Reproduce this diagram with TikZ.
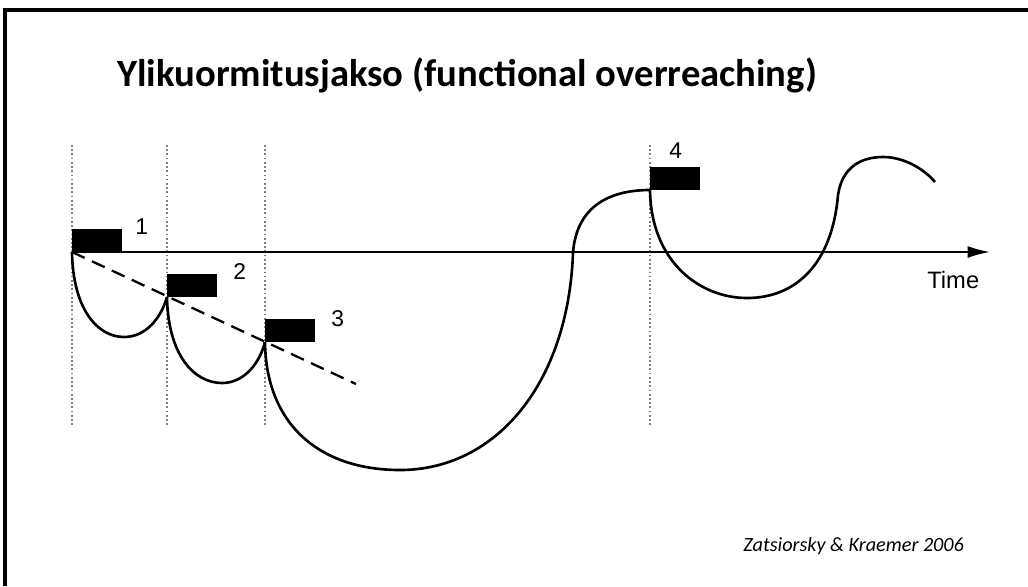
\documentclass[tikz,border=0pt]{standalone}
\usepackage{fontspec}
\setmainfont{Liberation Sans}
\newfontfamily\calfont{Carlito}
\usetikzlibrary{arrows.meta,positioning}

\begin{document}
\begin{tikzpicture}[
  x=0.02cm, y=-0.02cm,
  marker/.style={rectangle, fill=black, minimum width=1cm,
                 minimum height=0.46cm, inner sep=0pt, anchor=south west},
  num/.style={font=\fontsize{13}{15}\selectfont, inner sep=0pt, anchor=base west},
  guide/.style={gray, line width=1pt, dash pattern=on 1pt off 1.4pt},
  curve/.style={line width=1.5pt},
  trend/.style={line width=1.3pt, dash pattern=on 8pt off 4.5pt},
  arr/.style={-{Latex[length=4.5mm, width=2.4mm]}, line width=1pt},
]
  \useasboundingbox (0,0) rectangle (1028,586);
  \draw[line width=2pt] (5,586) -- (5,10) -- (1028,10);

  % title and source
  \node[anchor=base west, inner sep=0pt, font=\calfont\bfseries\fontsize{22}{26}\selectfont]
    (title) at (117,86) {Ylikuormitusjakso (functional overreaching)};
  \node[anchor=base west, inner sep=0pt, font=\calfont\itshape\fontsize{11.5}{14}\selectfont]
    (source) at (743,551) {Zatsiorsky \& Kraemer 2006};

  % stimulus points
  \coordinate (p1) at (72,252);
  \coordinate (p2) at (167,297);
  \coordinate (p3) at (265,342);
  \coordinate (p4) at (650,190);
  \coordinate (tend) at (990,252);
  \coordinate (dend) at (356,384);

  \foreach \x in {72,167,265,650}
    \draw[guide] (\x,145) -- (\x,425);

  % time axis
  \draw[arr] (p1) -- (tend);
  \node[anchor=base west, inner sep=0pt, font=\fontsize{13.5}{16}\selectfont]
    (time) at (927,288) {Time};

  % trend
  \draw[trend] (p1) -- (dend);

  % responses
  \draw[curve] (p1) .. controls (73,310) and (98,337) .. (124,337)
                    .. controls (146,337) and (161,318) .. (p2);
  \draw[curve] (p2) .. controls (168,355) and (194,383) .. (222,383)
                    .. controls (245,383) and (260,362) .. (p3);
  \draw[curve] (p3) .. controls (266,425) and (320,470) .. (400,470)
                    .. controls (495,470) and (568,385) .. (573,253)
                    .. controls (576,210) and (605,190) .. (p4)
                    .. controls (651,262) and (700,298) .. (747,298)
                    .. controls (795,298) and (832,265) .. (838,195)
                    .. controls (842,168) and (860,157) .. (883,157)
                    .. controls (905,157) and (925,170) .. (935,182);

  % loads
  \node[marker] (b1) at (p1) {};
  \node[marker] (b2) at (p2) {};
  \node[marker] (b3) at (p3) {};
  \node[marker] (b4) at (p4) {};

  \node[num] (n1) at (135,234) {1};
  \node[num] (n2) at (233,279) {2};
  \node[num] (n3) at (331,326) {3};
  \node[num] (n4) at (669,158) {4};
\end{tikzpicture}
\end{document}
